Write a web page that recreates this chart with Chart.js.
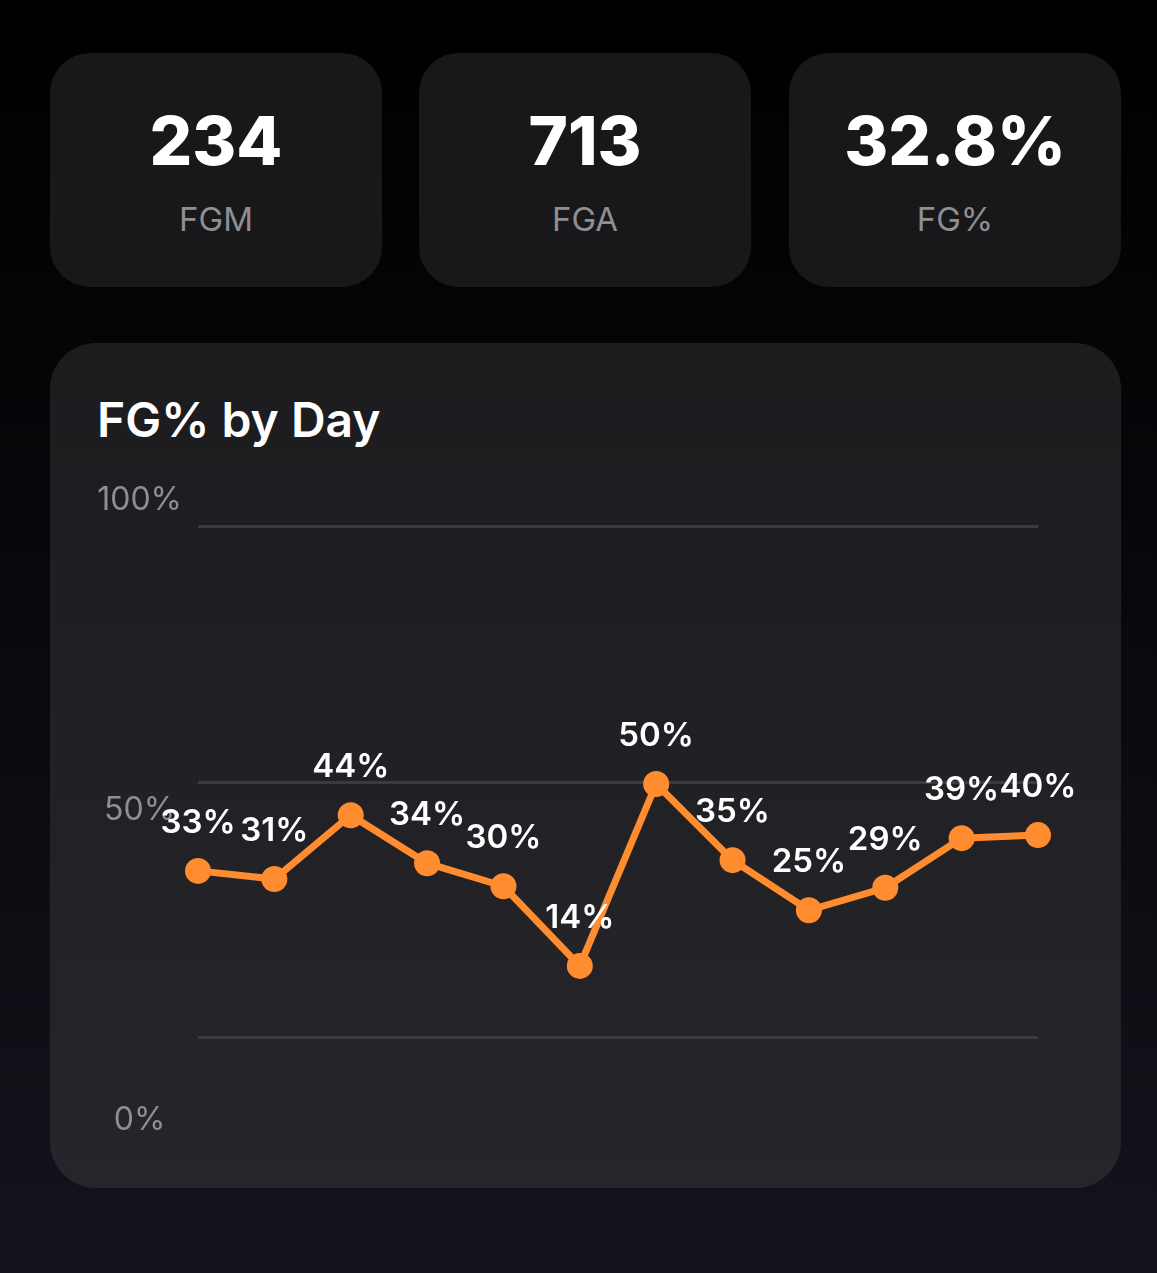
<!DOCTYPE html>
<html>
<head>
<meta charset="utf-8">
<script src="https://cdn.jsdelivr.net/npm/chart.js@4.4.1/dist/chart.umd.min.js"></script>
<style>
  html, body { margin: 0; padding: 0; }
  body {
    width: 1157px; height: 1273px; overflow: hidden; position: relative;
    background: linear-gradient(180deg, #000000 0%, #07070b 40%, #14131c 100%);
    font-family: Inter, "Noto Sans", sans-serif;
  }
  .stat {
    position: absolute; top: 53px; width: 332px; height: 234px;
    background: #18181b; border-radius: 40px;
  }
  .stat .num {
    position: absolute; left: 0; right: 0; top: 88px; text-align: center;
    color: #ffffff; font-weight: 800; font-size: 67px; line-height: 84px; margin-top: -42px;
  }
  .stat .lbl {
    position: absolute; left: 0; right: 0; top: 166px; text-align: center;
    color: #8e8e93; font-weight: 400; font-size: 33px; line-height: 40px; margin-top: -20px;
  }
  #card {
    position: absolute; left: 50px; top: 343px; width: 1071px; height: 845px;
    border-radius: 46px;
    background: linear-gradient(180deg, #1c1c1f 0%, #26252b 100%);
  }
  #title {
    position: absolute; left: 47px; top: 48px; color: #fff;
    font-weight: 600; font-size: 48px; line-height: 58px;
  }
  #chart { position: absolute; left: 0; top: 0; }
</style>
</head>
<body>
<div class="stat" style="left:50px"><div class="num">234</div><div class="lbl">FGM</div></div>
<div class="stat" style="left:419px"><div class="num">713</div><div class="lbl">FGA</div></div>
<div class="stat" style="left:789px"><div class="num">32.8%</div><div class="lbl">FG%</div></div>
<div id="card">
  <div id="title">FG% by Day</div>
  <canvas id="chart" width="1071" height="845"></canvas>
</div>
<script>
const days = ["Day 1","Day 2","Day 3","Day 4","Day 5","Day 6","Day 7","Day 8","Day 9","Day 10","Day 11","Day 12"];
const fgPct = [32.7, 31.1, 43.6, 34.2, 29.7, 14.1, 49.7, 34.8, 25.0, 29.4, 39.1, 39.7];
const tickValues = [0, 50, 100];

const ORANGE = '#ff8c2f';

const valueLabels = {
  id: 'valueLabels',
  afterDatasetsDraw(chart) {
    const ctx = chart.ctx;
    const meta = chart.getDatasetMeta(0);
    ctx.save();
    ctx.font = '600 33px Inter, "Noto Sans", sans-serif';
    ctx.fillStyle = '#ffffff';
    ctx.textAlign = 'center';
    ctx.textBaseline = 'middle';
    meta.data.forEach((pt, i) => {
      ctx.fillText(Math.round(fgPct[i]) + '%', pt.x, pt.y - 48);
    });
    ctx.restore();
  }
};

new Chart(document.getElementById('chart'), {
  type: 'line',
  data: {
    labels: days,
    datasets: [{
      data: fgPct,
      yAxisID: 'y',
      borderColor: ORANGE,
      backgroundColor: ORANGE,
      borderWidth: 7,
      pointRadius: 13,
      pointBackgroundColor: ORANGE,
      pointBorderWidth: 0,
      tension: 0,
      clip: false
    }]
  },
  options: {
    responsive: false,
    animation: false,
    events: [],
    layout: { padding: { left: 0, right: 83, top: 157, bottom: 68 } },
    plugins: { legend: { display: false }, tooltip: { enabled: false } },
    scales: {
      x: { display: false, offset: false },
      y: {
        position: 'left',
        min: -16.05, max: 105.28,
        afterBuildTicks(scale) { scale.ticks = tickValues.map(v => ({ value: v })); },
        afterFit(scale) { scale.width = 0; },
        ticks: { display: false },
        border: { display: false },
        grid: { color: '#3a3a3f', lineWidth: 3, drawTicks: false }
      },
      y2: {
        position: 'left',
        min: 0, max: 100,
        afterBuildTicks(scale) { scale.ticks = tickValues.map(v => ({ value: v })); },
        afterFit(scale) { scale.width = 148; },
        border: { display: false },
        grid: { display: false, drawTicks: false },
        ticks: {
          color: '#8e8e93',
          font: { family: 'Inter, "Noto Sans", sans-serif', size: 32, weight: '400' },
          crossAlign: 'center',
          padding: 16,
          callback: (v) => v + '%'
        }
      }
    }
  },
  plugins: [valueLabels]
});
</script>
</body>
</html>
